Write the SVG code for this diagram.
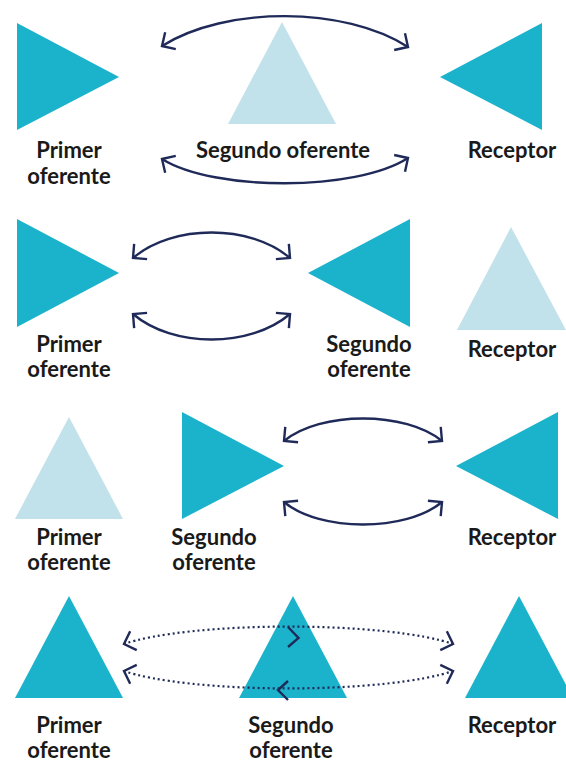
<svg xmlns="http://www.w3.org/2000/svg" width="566" height="762" viewBox="0 0 566 762">
<style>
.t{fill:#1bb3cb}
.l{fill:#c1e1eb}
.lbl{font-family:Lato,"Open Sans","Liberation Sans",sans-serif;font-weight:700;font-size:22px;fill:#1a1a1a;text-anchor:middle}
.arc{fill:none;stroke:#1f2a58;stroke-width:2.4}
.dot{fill:none;stroke:#1f2a58;stroke-width:2.2;stroke-dasharray:2 3}
.chev{fill:none;stroke:#1f2a58;stroke-width:2.4}
</style>
<defs>
<marker id="ah" viewBox="-14 -14 28 28" markerWidth="28" markerHeight="28" refX="0" refY="0" markerUnits="userSpaceOnUse" orient="auto-start-reverse">
<path d="M-10,-10 L0,0 L-10,10" fill="none" stroke="#1f2a58" stroke-width="2.4"/>
</marker>
</defs>
<rect width="566" height="762" fill="#ffffff"/>

<!-- Row 1 -->
<g id="r1-primer">
<polygon class="t" points="17,23 119,77 17,130"/>
<text class="lbl" x="69" y="158">Primer</text>
<text class="lbl" x="69" y="184">oferente</text>
</g>
<g id="r1-segundo">
<polygon class="l" points="282,22 336,124 228,124"/>
<text class="lbl" x="283" y="158">Segundo oferente</text>
</g>
<g id="r1-receptor">
<polygon class="t" points="440,77 542,23 542,130"/>
<text class="lbl" x="512" y="158">Receptor</text>
</g>

<!-- Row 2 -->
<g id="r2-primer">
<polygon class="t" points="17,219 119,273 17,327"/>
<text class="lbl" x="69" y="352">Primer</text>
<text class="lbl" x="69" y="377">oferente</text>
</g>
<g id="r2-segundo">
<polygon class="t" points="308,273 410,219 410,327"/>
<text class="lbl" x="369" y="352">Segundo</text>
<text class="lbl" x="369" y="377">oferente</text>
</g>
<g id="r2-receptor">
<polygon class="l" points="511,227 566,330 457,330"/>
<text class="lbl" x="512" y="357">Receptor</text>
</g>

<!-- Row 3 -->
<g id="r3-primer">
<polygon class="l" points="69,417 123,519 15,519"/>
<text class="lbl" x="69" y="545">Primer</text>
<text class="lbl" x="69" y="570">oferente</text>
</g>
<g id="r3-segundo">
<polygon class="t" points="182,412 284,466 182,519"/>
<text class="lbl" x="214" y="545">Segundo</text>
<text class="lbl" x="214" y="570">oferente</text>
</g>
<g id="r3-receptor">
<polygon class="t" points="456,466 558,412 558,519"/>
<text class="lbl" x="512" y="545">Receptor</text>
</g>

<!-- Row 4 -->
<g id="r4-primer">
<polygon class="t" points="69,596 123,698 15,698"/>
<text class="lbl" x="69" y="733">Primer</text>
<text class="lbl" x="69" y="758">oferente</text>
</g>
<g id="r4-segundo">
<polygon class="t" points="293,596 347,698 239,698"/>
<text class="lbl" x="291" y="733">Segundo</text>
<text class="lbl" x="291" y="758">oferente</text>
</g>
<g id="r4-receptor">
<polygon class="t" points="519,596 573,698 465,698"/>
<text class="lbl" x="512" y="733">Receptor</text>
</g>

<g id="connectors">
<path class="arc" d="M162,46 C226,6 344,6 408,47" marker-start="url(#ah)" marker-end="url(#ah)"/>
<path class="arc" d="M162,159 C214,191.5 356,191.5 408,158" marker-start="url(#ah)" marker-end="url(#ah)"/>
<path class="arc" d="M133,258 C173,224 250,224 290,258" marker-start="url(#ah)" marker-end="url(#ah)"/>
<path class="arc" d="M133,314 C173,348 250,348 290,314" marker-start="url(#ah)" marker-end="url(#ah)"/>
<path class="arc" d="M284,441 C320,411 406,411 442,441" marker-start="url(#ah)" marker-end="url(#ah)"/>
<path class="arc" d="M284,502 C320,532 406,532 442,502" marker-start="url(#ah)" marker-end="url(#ah)"/>
<path class="dot" d="M124,644 A183,31 0 0 1 453,644" marker-start="url(#ah)" marker-end="url(#ah)"/>
<path class="dot" d="M124,671 A183,31 0 0 0 453,671" marker-start="url(#ah)" marker-end="url(#ah)"/>
<polyline class="chev" points="288,627 298.5,638 288,647"/>
<polyline class="chev" points="288,681 278,690 288,700"/>
</g>
</svg>
